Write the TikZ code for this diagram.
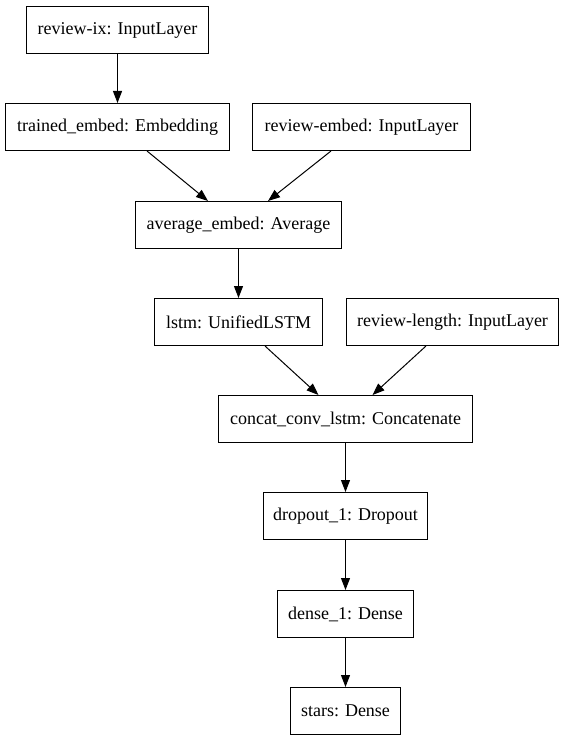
\documentclass[tikz,border=0pt]{standalone}
\usepackage{fontspec}
\newfontfamily\timesfont{Liberation Serif}
\usetikzlibrary{arrows.meta}
\begin{document}
\begin{tikzpicture}[x=1pt,y=-1pt,
  layer/.style={draw=black, line width=1pt, fill=white, inner sep=0pt,
    minimum height=47pt, font=\timesfont\fontsize{18}{20}\selectfont, anchor=center},
  arr/.style={line width=1pt, -{Triangle[length=12pt,width=9pt]}}]
\useasboundingbox (0,0) rectangle (565,741);
\node[layer, minimum width=182pt] (ix) at (117.5,30) {review-ix: InputLayer};
\node[layer, minimum width=224pt] (trained) at (117.5,127) {trained\_embed: Embedding};
\node[layer, minimum width=218pt] (rembed) at (361.5,127) {review-embed: InputLayer};
\node[layer, minimum width=206pt] (avg) at (238.5,225) {average\_embed: Average};
\node[layer, minimum width=168pt] (lstm) at (238.5,322) {lstm: UnifiedLSTM};
\node[layer, minimum width=212pt] (rlen) at (452.5,322) {review-length: InputLayer};
\node[layer, minimum width=254pt] (concat) at (345.5,419) {concat\_conv\_lstm: Concatenate};
\node[layer, minimum width=164pt] (drop) at (345.5,516) {dropout\_1: Dropout};
\node[layer, minimum width=136pt] (dense) at (345.5,614) {dense\_1: Dense};
\node[layer, minimum width=110pt] (stars) at (345.5,711) {stars: Dense};
\draw[arr] (ix.south) -- (trained.north);
\draw[arr] ([xshift=29.5pt]trained.south) -- ([xshift=-30.5pt]avg.north);
\draw[arr] ([xshift=-30.5pt]rembed.south) -- ([xshift=29.5pt]avg.north);
\draw[arr] (avg.south) -- (lstm.north);
\draw[arr] ([xshift=26.5pt]lstm.south) -- ([xshift=-27pt]concat.north);
\draw[arr] ([xshift=-26.5pt]rlen.south) -- ([xshift=27pt]concat.north);
\draw[arr] (concat.south) -- (drop.north);
\draw[arr] (drop.south) -- (dense.north);
\draw[arr] (dense.south) -- (stars.north);
\end{tikzpicture}
\end{document}
